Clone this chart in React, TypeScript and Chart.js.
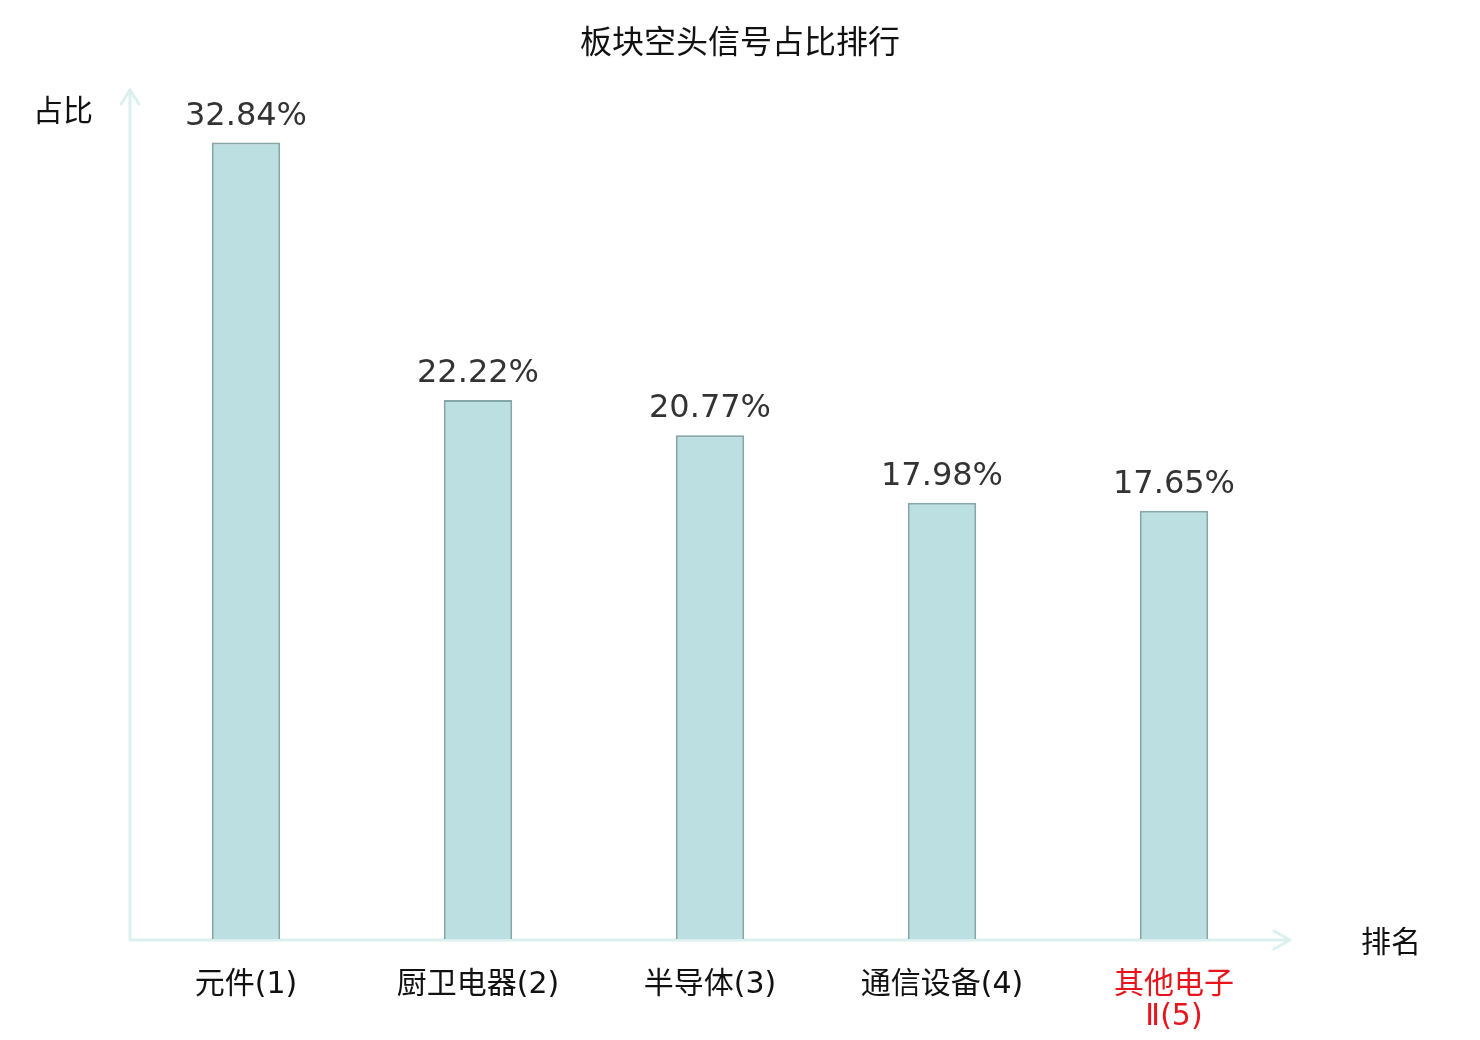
import { useEffect, useRef } from "react"
import { Chart, registerables } from "chart.js"
import type { Plugin } from "chart.js"

Chart.register(...registerables)

// data
const categories: (string | string[])[] = ["元件(1)", "厨卫电器(2)", "半导体(3)", "通信设备(4)", ["其他电子", "Ⅱ(5)"]]
const shares = [32.84, 22.22, 20.77, 17.98, 17.65]
const highlightIndex = 4
const chartTitle = "板块空头信号占比排行"

const FONT = "'DejaVu Sans', 'Noto Sans CJK SC', sans-serif"
const AXIS_COLOR = "#dcf1ef"

// title, axis lines with open arrow heads, axis names and value labels
const decorations: Plugin<"bar"> = {
  id: "decorations",
  beforeDatasetsDraw(chart) {
    const { ctx, chartArea } = chart
    const x0 = chartArea.left
    const y0 = chartArea.bottom + 1
    ctx.save()
    ctx.strokeStyle = AXIS_COLOR
    ctx.lineWidth = 3
    ctx.lineCap = "round"
    ctx.lineJoin = "round"
    // y axis
    ctx.beginPath()
    ctx.moveTo(x0, y0)
    ctx.lineTo(x0, chartArea.top)
    ctx.moveTo(x0 - 9, chartArea.top + 14)
    ctx.lineTo(x0, chartArea.top)
    ctx.lineTo(x0 + 9, chartArea.top + 14)
    // x axis
    ctx.moveTo(x0, y0)
    ctx.lineTo(chartArea.right, y0)
    ctx.moveTo(chartArea.right - 16, y0 - 9)
    ctx.lineTo(chartArea.right, y0)
    ctx.lineTo(chartArea.right - 16, y0 + 9)
    ctx.stroke()

    ctx.fillStyle = "#111"
    ctx.textAlign = "center"
    ctx.textBaseline = "middle"
    ctx.font = `32px ${FONT}`
    ctx.fillText(chartTitle, chart.width / 2, 45)
    ctx.font = `30px ${FONT}`
    ctx.fillText("占比", x0 - 67, chartArea.top + 23)
    ctx.fillText("排名", chartArea.right + 101, y0 + 4)
    ctx.restore()
  },
  afterDatasetsDraw(chart) {
    const { ctx } = chart
    const meta = chart.getDatasetMeta(0)
    ctx.save()
    ctx.fillStyle = "#333"
    ctx.font = `32px ${FONT}`
    ctx.textAlign = "center"
    ctx.textBaseline = "middle"
    meta.data.forEach((bar, i) => {
      ctx.fillText(`${shares[i].toFixed(2)}%`, bar.x, bar.y - 26)
    })
    ctx.restore()
  },
}

export default function App() {
  const canvasRef = useRef<HTMLCanvasElement>(null)
  const chartRef = useRef<Chart<"bar"> | null>(null)

  useEffect(() => {
    if (!canvasRef.current) return
    if (chartRef.current) chartRef.current.destroy()

    chartRef.current = new Chart(canvasRef.current, {
      type: "bar",
      data: {
        labels: categories,
        datasets: [
          {
            data: shares,
            backgroundColor: "#bce0e2",
            borderColor: "#86a5a6",
            borderWidth: 2,
            barPercentage: 0.295,
            categoryPercentage: 1,
          },
        ],
      },
      options: {
        responsive: true,
        maintainAspectRatio: false,
        animation: false,
        layout: { padding: { left: 130, right: 190, top: 90, bottom: 0 } },
        plugins: {
          legend: { display: false },
          tooltip: { enabled: false },
        },
        scales: {
          x: {
            grid: { display: false },
            border: { display: false },
            afterFit: (scale) => {
              scale.height = 101
            },
            ticks: {
              padding: 22,
              maxRotation: 0,
              autoSkip: false,
              font: { family: FONT, size: 30, lineHeight: 1.07 },
              color: (c) => (c.index === highlightIndex ? "#e8141b" : "#111"),
            },
          },
          y: {
            display: false,
            min: 0,
            max: 35,
          },
        },
      },
      plugins: [decorations],
    })

    return () => {
      if (chartRef.current) {
        chartRef.current.destroy()
        chartRef.current = null
      }
    }
  }, [])

  return (
    <div style={{ position: "absolute", left: 0, top: 0, width: 1480, height: 1040, background: "#fff" }}>
      <canvas ref={canvasRef} />
    </div>
  )
}
